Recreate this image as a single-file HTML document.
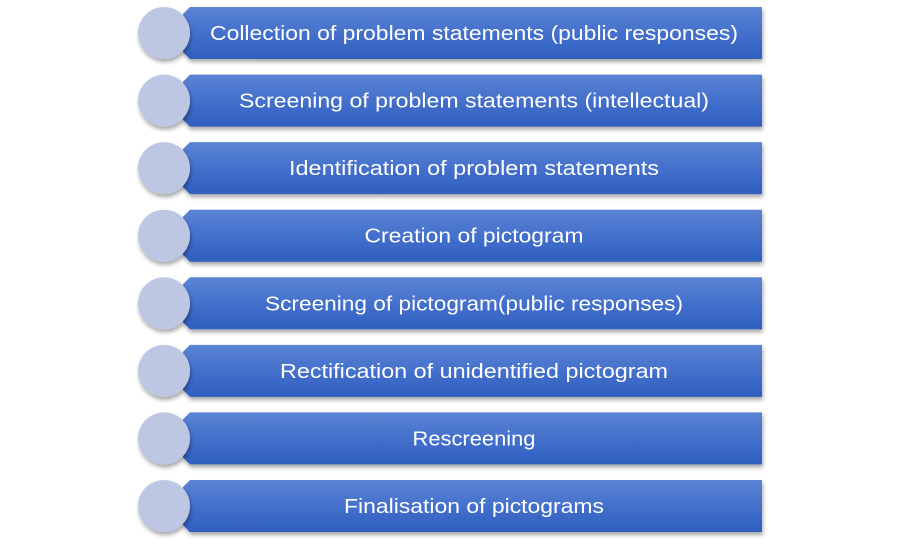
<!DOCTYPE html>
<html><head><style>html,body{margin:0;padding:0;background:#fff}</style></head>
<body>
<svg width="900" height="548" viewBox="0 0 900 548" xmlns="http://www.w3.org/2000/svg">
<defs>
<linearGradient id="g" x1="0" y1="0" x2="0" y2="1">
<stop offset="0" stop-color="#5b84d4"/><stop offset="0.5" stop-color="#4470cc"/><stop offset="1" stop-color="#2f5fbf"/>
</linearGradient>
<filter id="s" x="-10%" y="-20%" width="120%" height="150%"><feDropShadow dx="1" dy="3" stdDeviation="2" flood-color="#000" flood-opacity="0.35"/></filter>
</defs>
<g font-family="Liberation Sans, sans-serif" font-size="20" fill="#fff" text-anchor="middle">
<g id="r" transform="translate(0,7)">
</g>
</g>
<g font-family="Liberation Sans, sans-serif" font-size="20" text-anchor="middle">
<g transform="translate(0,7)"><path d="M190 0H762V52H190L183 45V7Z" fill="url(#g)" filter="url(#s)"/><circle cx="164" cy="26" r="26" fill="#bdc7e3" filter="url(#s)"/><text x="474" y="33" fill="#fff" textLength="528" lengthAdjust="spacingAndGlyphs">Collection of problem statements (public responses)</text></g>
<g transform="translate(0,74.6)"><path d="M190 0H762V52H190L183 45V7Z" fill="url(#g)" filter="url(#s)"/><circle cx="164" cy="26" r="26" fill="#bdc7e3" filter="url(#s)"/><text x="474" y="33" fill="#fff" textLength="470" lengthAdjust="spacingAndGlyphs">Screening of problem statements (intellectual)</text></g>
<g transform="translate(0,142.1)"><path d="M190 0H762V52H190L183 45V7Z" fill="url(#g)" filter="url(#s)"/><circle cx="164" cy="26" r="26" fill="#bdc7e3" filter="url(#s)"/><text x="474" y="33" fill="#fff" textLength="370" lengthAdjust="spacingAndGlyphs">Identification of problem statements</text></g>
<g transform="translate(0,209.7)"><path d="M190 0H762V52H190L183 45V7Z" fill="url(#g)" filter="url(#s)"/><circle cx="164" cy="26" r="26" fill="#bdc7e3" filter="url(#s)"/><text x="474" y="33" fill="#fff" textLength="219" lengthAdjust="spacingAndGlyphs">Creation of pictogram</text></g>
<g transform="translate(0,277.3)"><path d="M190 0H762V52H190L183 45V7Z" fill="url(#g)" filter="url(#s)"/><circle cx="164" cy="26" r="26" fill="#bdc7e3" filter="url(#s)"/><text x="474" y="33" fill="#fff" textLength="418" lengthAdjust="spacingAndGlyphs">Screening of pictogram(public responses)</text></g>
<g transform="translate(0,344.9)"><path d="M190 0H762V52H190L183 45V7Z" fill="url(#g)" filter="url(#s)"/><circle cx="164" cy="26" r="26" fill="#bdc7e3" filter="url(#s)"/><text x="474" y="33" fill="#fff" textLength="388" lengthAdjust="spacingAndGlyphs">Rectification of unidentified pictogram</text></g>
<g transform="translate(0,412.4)"><path d="M190 0H762V52H190L183 45V7Z" fill="url(#g)" filter="url(#s)"/><circle cx="164" cy="26" r="26" fill="#bdc7e3" filter="url(#s)"/><text x="474" y="33" fill="#fff" textLength="123" lengthAdjust="spacingAndGlyphs">Rescreening</text></g>
<g transform="translate(0,480)"><path d="M190 0H762V52H190L183 45V7Z" fill="url(#g)" filter="url(#s)"/><circle cx="164" cy="26" r="26" fill="#bdc7e3" filter="url(#s)"/><text x="474" y="33" fill="#fff" textLength="260" lengthAdjust="spacingAndGlyphs">Finalisation of pictograms</text></g>
</g>
</svg>
</body></html>
